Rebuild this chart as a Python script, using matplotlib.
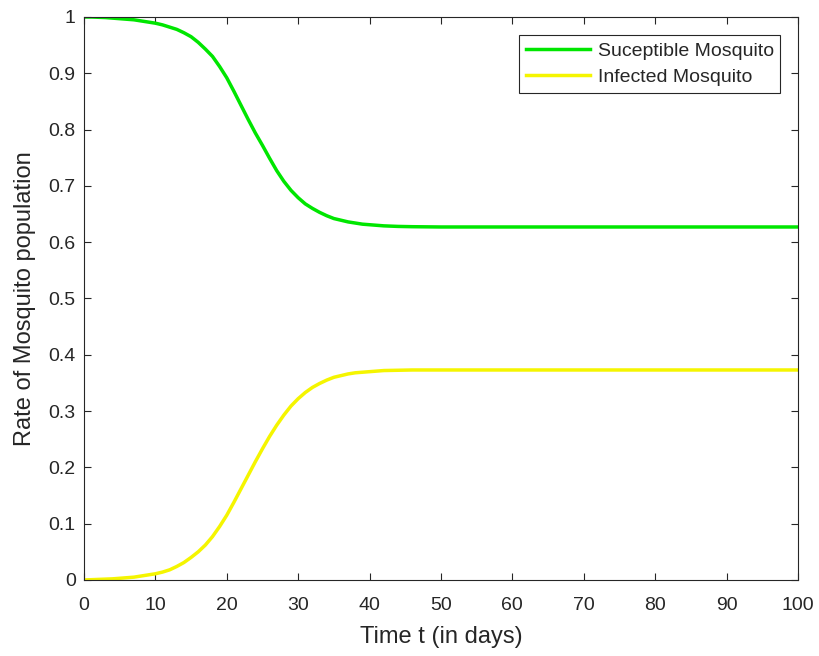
import matplotlib
matplotlib.use('Agg')
import matplotlib.pyplot as plt

# values (days, population rate)
t_days = [0, 1, 2, 3, 4, 5, 6, 7, 8, 9, 10, 11, 12, 13, 14, 15, 16, 17,
          18, 19, 20, 21, 22, 23, 24, 25, 26, 27, 28, 29, 30, 31, 32, 33,
          34, 35, 36, 37, 38, 39, 40, 42, 44, 46, 50, 60, 70, 80, 90, 100]
susceptible = [1.000, 1.000, 0.9995, 0.999, 0.998, 0.997, 0.996, 0.995,
               0.993, 0.991, 0.989, 0.986, 0.982, 0.978, 0.972, 0.965,
               0.955, 0.943, 0.930, 0.912, 0.892, 0.868, 0.843, 0.818,
               0.794, 0.772, 0.749, 0.727, 0.708, 0.692, 0.679, 0.668,
               0.660, 0.653, 0.647, 0.642, 0.639, 0.636, 0.634, 0.632,
               0.631, 0.629, 0.628, 0.6275, 0.627, 0.627, 0.627, 0.627,
               0.627, 0.627]
infected = [0.000, 0.0005, 0.001, 0.0015, 0.002, 0.003, 0.004, 0.005,
            0.007, 0.009, 0.011, 0.014, 0.018, 0.024, 0.031, 0.040,
            0.050, 0.062, 0.077, 0.095, 0.115, 0.138, 0.162, 0.186,
            0.210, 0.233, 0.255, 0.275, 0.293, 0.309, 0.322, 0.333,
            0.342, 0.349, 0.355, 0.360, 0.363, 0.366, 0.368, 0.369,
            0.370, 0.372, 0.3725, 0.373, 0.373, 0.373, 0.373, 0.373,
            0.373, 0.373]
x_ticks = list(range(0, 101, 10))
y_ticks = [i / 10 for i in range(11)]
y_labels = ['0', '0.1', '0.2', '0.3', '0.4', '0.5', '0.6', '0.7', '0.8',
            '0.9', '1']

plt.rcParams['font.family'] = ['Liberation Sans', 'DejaVu Sans']
text_col = '#262626'

fig = plt.figure(figsize=(8.2, 6.56), dpi=100)
ax = fig.add_axes([0.1024, 0.1159, 0.8707, 0.8582])

ax.plot(t_days, susceptible, color='#00e600', lw=2.5,
        label='Suceptible Mosquito')
ax.plot(t_days, infected, color='#f5f500', lw=2.5,
        label='Infected Mosquito')

ax.set_xlim(0, 100)
ax.set_ylim(0, 1)
ax.set_xticks(x_ticks)
ax.set_yticks(y_ticks)
ax.set_yticklabels(y_labels)
ax.tick_params(direction='in', length=5, width=0.8, top=True, right=True,
               labelsize=14, colors=text_col)
ax.tick_params(axis='x', pad=12)
ax.tick_params(axis='y', pad=6)
for s in ax.spines.values():
    s.set_color(text_col)
    s.set_linewidth(0.8)

ax.set_xlabel('Time t (in days)', fontsize=17, color=text_col, labelpad=9)
ax.set_ylabel('Rate of Mosquito population', fontsize=17, color=text_col,
              labelpad=9)

leg = ax.legend(loc='upper right', bbox_to_anchor=(0.9755, 0.9675),
                fontsize=14, handlelength=3.3, fancybox=False,
                framealpha=1, edgecolor=text_col, borderpad=0.35,
                labelspacing=0.45, handletextpad=0.4, borderaxespad=0.0)
leg.get_frame().set_linewidth(0.8)
for txt in leg.get_texts():
    txt.set_color(text_col)

fig.savefig('out.png', dpi=100)
